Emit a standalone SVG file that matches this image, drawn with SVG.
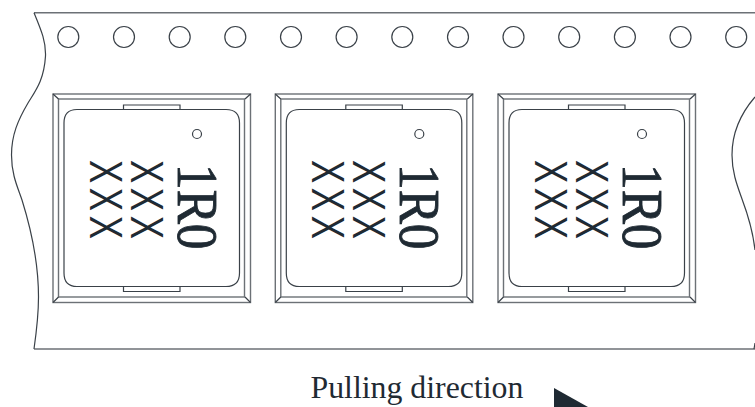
<svg xmlns="http://www.w3.org/2000/svg" xmlns:xlink="http://www.w3.org/1999/xlink" width="755" height="407" viewBox="0 0 755 407">
<style>
.l{fill:none;stroke:#3a4148;stroke-width:1.200}
.g{fill:none;stroke:#6c7176;stroke-width:1.400}
.t{font-family:"Liberation Serif","Times New Roman",serif;fill:#1f2a33}
.x{font-family:"Liberation Sans",Arial,sans-serif;fill:#1f2a33;letter-spacing:6px}
.b{stroke:#1f2a33;stroke-width:.9}
</style>
<defs>
<g id="pkg">
<rect class="g" x="53" y="94" width="197.500" height="208.500"/>
<rect class="g" x="58.500" y="99" width="186" height="198"/>
<path class="l" d="M53 94L58.500 99M250.500 94L245 99M53 302.500L58.500 297M250.500 302.500L245 297"/>
<path class="l" d="M123.500 109.500V105H180V109.500M77 109.500H226Q239.500 109.500 239.500 123V273Q239.500 286.500 226 286.500H77Q64 286.500 64 273V123Q64 109.500 77 109.500Z"/>
<path class="l" d="M123.500 286.500V291.500H180V286.500"/>
<circle class="l" cx="197" cy="134" r="4.500"/>
<text class="x" font-size="46" transform="translate(90 160) rotate(90) scale(.76 1)" x="0" y="0">XXX</text>
<text class="x" font-size="46" transform="translate(131 160) rotate(90) scale(.76 1)" x="0" y="0">XXX</text>
<text class="t b" font-size="57" transform="translate(178 164) rotate(90) scale(.9 1)" x="0" y="0">1R0</text>
</g>
</defs>
<g id="tape">
<path class="g" d="M34 12.700H755"/>
<path class="g" d="M34 349H755"/>
<path class="l" d="M34 12.700C42 32 46 42 45.500 56C44 80 36 90 28 103C18 120 11.500 135 11.500 155C11.500 175 18 188 22 200C32 232 38.500 262 38.500 297C38.500 315 36 335 34 349"/>
<path class="l" d="M755 97C742 112 732 130 732 155C732 172 737 185 742 199C748 215 753 232 755 250M755 343L754 349"/>
</g>
<g id="holes">
<circle class="l" cx="68.300" cy="37" r="10.500"/>
<circle class="l" cx="124" cy="37" r="10.500"/>
<circle class="l" cx="179.700" cy="37" r="10.500"/>
<circle class="l" cx="235.300" cy="37" r="10.500"/>
<circle class="l" cx="291" cy="37" r="10.500"/>
<circle class="l" cx="346.600" cy="37" r="10.500"/>
<circle class="l" cx="402.300" cy="37" r="10.500"/>
<circle class="l" cx="458" cy="37" r="10.500"/>
<circle class="l" cx="513.500" cy="37" r="10.500"/>
<circle class="l" cx="569.200" cy="37" r="10.500"/>
<circle class="l" cx="624.900" cy="37" r="10.500"/>
<circle class="l" cx="680.500" cy="37" r="10.500"/>
<circle class="l" cx="736.200" cy="37" r="10.500"/>
</g>
<g id="part1"><use xlink:href="#pkg" href="#pkg"/></g>
<g id="part2"><use xlink:href="#pkg" href="#pkg" x="222.300"/></g>
<g id="part3"><use xlink:href="#pkg" href="#pkg" x="445"/></g>
<g id="label">
<text class="t" font-size="31.800" x="310.500" y="398">Pulling direction</text>
<path d="M554 388L588 407H554Z" fill="#1f2a33"/>
</g>
</svg>
